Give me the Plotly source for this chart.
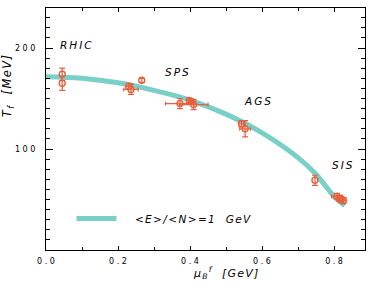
import plotly.graph_objects as go

# freeze-out data points
mu_b = [0.045, 0.045, 0.230, 0.236, 0.266, 0.372, 0.398, 0.405, 0.410, 0.543, 0.553, 0.747, 0.808, 0.815, 0.820, 0.826]
t_f = [174, 165, 162, 159, 168, 145, 148, 147, 144, 125, 120, 69, 53, 51, 50, 49]
t_err = [6, 7, 3, 5, 2, 5, 2, 2, 5, 3, 8, 5, 3, 3, 3, 3]
mu_err = [0, 0, 0.008, 0.02, 0, 0.04, 0.008, 0.008, 0.04, 0.008, 0.015, 0, 0.015, 0.008, 0.008, 0.008]

# <E>/<N> = 1 GeV curve
curve_mu = [0.0, 0.1, 0.2, 0.3, 0.4, 0.5, 0.6, 0.7, 0.75, 0.8, 0.83]
curve_t = [171.5, 170, 165.5, 158, 148.5, 134.5, 116, 91.5, 75, 53, 44]

# labels
lab_text = ["RHIC", "SPS", "AGS", "SIS"]
lab_mu = [0.086, 0.367, 0.589, 0.825]
lab_t = [203, 176, 147.5, 84]

x_tickvals = [0.0, 0.2, 0.4, 0.6, 0.8]
x_ticktext = ["0.0", "0.2", "0.4", "0.6", "0.8"]
y_tickvals = [100, 200]
y_ticktext = ["100", "200"]

RED = "#e8603c"
TEAL = "#78d0c8"
FONT = "DejaVu Sans"


def sp(s):
    # widen the text the way the original typeface does
    return " ".join(s)


def ls(s, px):
    return f'<span style="letter-spacing:{px}px">{s}</span>'


fig = go.Figure()
fig.add_trace(go.Scatter(
    x=curve_mu, y=curve_t, mode="lines", line=dict(color=TEAL, width=5, shape="spline"),
    name="\u00a0\u00a0\u00a0\u00a0" + ls("&lt;E&gt;/&lt;N&gt;=1  GeV", 1.4), showlegend=True))

idx_x = [i for i, e in enumerate(mu_err) if e > 0]
idx_n = [i for i, e in enumerate(mu_err) if e == 0]
for idx, withx in ((idx_n, False), (idx_x, True)):
    tr = dict(
        x=[mu_b[i] for i in idx], y=[t_f[i] for i in idx], mode="markers",
        marker=dict(symbol="circle-open", size=6, color=RED, line=dict(width=1.4, color=RED)),
        error_y=dict(type="data", array=[t_err[i] for i in idx], color=RED, thickness=1.2, width=3),
        showlegend=False)
    if withx:
        tr["error_x"] = dict(type="data", array=[mu_err[i] for i in idx], color=RED, thickness=1.2, width=2)
    fig.add_trace(go.Scatter(**tr))

for t, x, y in zip(lab_text, lab_mu, lab_t):
    fig.add_annotation(x=x, y=y, text=ls(t, 2), showarrow=False,
                       font=dict(family=FONT, size=10.5, style="italic", color="black"))

axis_common = dict(showline=True, linecolor="black", linewidth=1.3, mirror="allticks",
                   ticks="inside", tickcolor="black", tickwidth=1, showgrid=False, zeroline=False,
                   tickfont=dict(family=FONT, size=8, color="black"))
fig.update_xaxes(range=[0, 0.886], tickvals=x_tickvals,
                 ticktext=[sp(t) for t in x_ticktext], ticklen=4,
                 minor=dict(ticks="inside", dtick=0.1, tick0=0, ticklen=3, tickcolor="black"),
                 ticklabelstandoff=3, **axis_common)
fig.update_yaxes(range=[0, 239.6], tickvals=y_tickvals,
                 ticktext=[sp(t) for t in y_ticktext], ticklen=7,
                 minor=dict(ticks="inside", dtick=10, tick0=0, ticklen=4, tickcolor="black"),
                 ticklabelstandoff=8, **axis_common)

fig.add_annotation(xref="paper", yref="paper", x=0.565, y=-0.095, yanchor="middle",
                   text=ls("μ<sub>B</sub><sup>f</sup>  [GeV]", 1.2), showarrow=False,
                   font=dict(family=FONT, size=11, style="italic", color="black"))
fig.add_annotation(xref="paper", yref="paper", x=-0.12, y=0.68, xanchor="center", yanchor="middle",
                   text=ls("T<sub>f</sub>  [MeV]", 1.4), showarrow=False, textangle=-90,
                   font=dict(family=FONT, size=11.5, style="italic", color="black"))

fig.update_layout(
    width=374, height=282, margin=dict(l=46, r=9, t=8, b=32),
    paper_bgcolor="white", plot_bgcolor="white",
    legend=dict(x=0.08, y=0.13, xanchor="left", yanchor="middle", bgcolor="rgba(0,0,0,0)",
                itemwidth=40, font=dict(family=FONT, size=10.5, style="italic", color="black")),
)
fig.write_html("out.html")
